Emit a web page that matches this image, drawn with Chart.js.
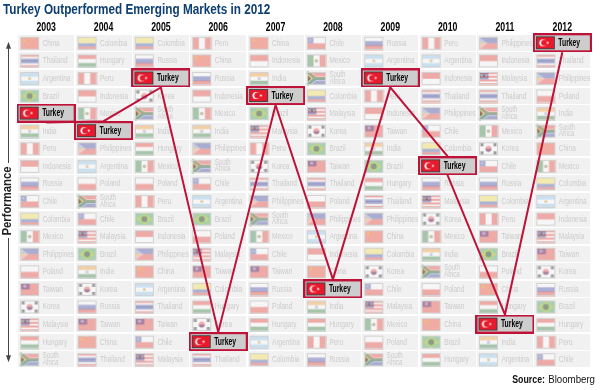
<!DOCTYPE html>
<html><head><meta charset="utf-8">
<style>html,body{margin:0;padding:0;background:#fff}canvas{display:block}</style>
<script src="https://cdn.jsdelivr.net/npm/chart.js@4"></script></head>
<body><div style="width:600px;height:390px"><canvas id="c" width="600" height="390"></canvas></div>
<script>
const chartTitle = "Turkey Outperformed Emerging Markets in 2012";
const axisTitle = "Performance";
const years = ["2003","2004","2005","2006","2007","2008","2009","2010","2011","2012"];
const rank2003 = ["China","Thailand","Argentina","Brazil","Turkey","India","Peru","Indonesia","Russia","Chile","Colombia","Mexico","Philippines","Poland","Taiwan","Korea","Malaysia","Hungary","South Africa"];
const rank2004 = ["Colombia","Hungary","Peru","Indonesia","Mexico","Turkey","Philippines","Argentina","Poland","South Africa","Chile","Malaysia","Brazil","India","Korea","Russia","Taiwan","China","Thailand"];
const rank2005 = ["Colombia","Russia","Turkey","Korea","South Africa","India","Hungary","Mexico","Poland","Peru","Brazil","Indonesia","Philippines","China","Argentina","Thailand","Taiwan","Chile","Malaysia"];
const rank2006 = ["Peru","China","Russia","Indonesia","Mexico","India","Philippines","South Africa","Chile","Argentina","Brazil","Poland","Malaysia","Taiwan","Colombia","Hungary","Korea","Turkey","Thailand"];
const rank2007 = ["China","Indonesia","India","Turkey","Brazil","Malaysia","Peru","Korea","Thailand","Philippines","South Africa","Mexico","Chile","Taiwan","Russia","Poland","Hungary","Argentina","Colombia"];
const rank2008 = ["Chile","Mexico","South Africa","Colombia","Malaysia","Korea","Brazil","Taiwan","Thailand","Poland","Philippines","Argentina","Indonesia","China","Turkey","India","Hungary","Peru","Russia"];
const rank2009 = ["Russia","Argentina","Turkey","Peru","Indonesia","Taiwan","India","Brazil","Hungary","Thailand","Philippines","China","Colombia","Korea","Chile","Malaysia","Mexico","Poland","South Africa"];
const rank2010 = ["Peru","Argentina","Indonesia","Thailand","Philippines","Chile","Colombia","Turkey","Russia","Malaysia","Korea","Mexico","India","South Africa","Poland","Taiwan","China","Brazil","Hungary"];
const rank2011 = ["Philippines","Indonesia","Malaysia","Thailand","South Africa","Mexico","Korea","Chile","Russia","Colombia","Peru","Taiwan","Brazil","Poland","China","Hungary","Turkey","India","Argentina"];
const rank2012 = ["Turkey","Thailand","Philippines","Poland","India","South Africa","China","Mexico","Colombia","Argentina","Indonesia","Malaysia","Taiwan","Korea","Russia","Brazil","Hungary","Peru","Chile"];
const turkeyRanks = [5,6,3,18,4,15,3,8,17,1];
const sourceBold = "Source:";
const sourceText = "Bloomberg";
const allRanks = [rank2003,rank2004,rank2005,rank2006,rank2007,rank2008,rank2009,rank2010,rank2011,rank2012];

const RED="#bf1238", FW=19, FH=13;
const SANS='"Liberation Sans",sans-serif';

/* No condensed face is installed: squeeze each font size horizontally to the reference's narrow type */
function squeeze(font){
  if(font.includes("14.5px")) return .81;
  if(font.includes("12.5px")) return .7;
  if(font.includes("13px")) return .87;
  if(font.includes("11px")) return font.includes("bold")?.8:.88;
  if(font.includes("10px")) return .68;
  return .72;
}
const canvasEl=document.getElementById("c");
const rawCtx=canvasEl.getContext("2d");
const rawFill=rawCtx.fillText.bind(rawCtx);
rawCtx.fillText=function(t,x,y){
  const k=squeeze(rawCtx.font);
  rawCtx.save();rawCtx.translate(x,y);rawCtx.scale(k,1);rawFill(t,0,0);rawCtx.restore();
};

function stripesH(c,cols,w,h){const s=h/cols.length;cols.forEach((k,i)=>{c.fillStyle=k;c.fillRect(0,i*s,w,s+.5);});}
function stripesV(c,cols,w,h){const s=w/cols.length;cols.forEach((k,i)=>{c.fillStyle=k;c.fillRect(i*s,0,s+.5,h);});}
function disc(c,x,y,r,k){c.fillStyle=k;c.beginPath();c.arc(x,y,r,0,7);c.fill();}
function drawFlag(c,n,w,h){
  const R="#e8382c",W="#ffffff",B="#3a3f9a",G="#2e7d3a",Y="#f6e04a";
  switch(n){
    case "China": c.fillStyle="#ee3b22";c.fillRect(0,0,w,h);disc(c,4,3.5,1.6,Y);[[7.5,1.5],[8.5,3],[8.5,5],[7.5,6.5]].forEach(p=>disc(c,p[0],p[1],.6,Y));break;
    case "Colombia": c.fillStyle=Y;c.fillRect(0,0,w,h/2);c.fillStyle="#3b4ea8";c.fillRect(0,h/2,w,h/4);c.fillStyle=R;c.fillRect(0,h*.75,w,h/4);break;
    case "Peru": stripesV(c,[R,W,R],w,h);break;
    case "Chile": c.fillStyle=W;c.fillRect(0,0,w,h/2);c.fillStyle=R;c.fillRect(0,h/2,w,h/2);c.fillStyle=B;c.fillRect(0,0,h/2,h/2);disc(c,h/4,h/4,1,W);break;
    case "Thailand": stripesH(c,[R,W,B,B,W,R],w,h);break;
    case "Hungary": stripesH(c,[R,W,G],w,h);break;
    case "Russia": stripesH(c,[W,"#3d45a5",R],w,h);break;
    case "Indonesia": stripesH(c,[R,W],w,h);break;
    case "Poland": stripesH(c,[W,R],w,h);break;
    case "Argentina": stripesH(c,["#8fc4ec",W,"#8fc4ec"],w,h);disc(c,w/2,h/2,1.5,"#c98a20");break;
    case "India": stripesH(c,["#f39a33",W,G],w,h);disc(c,w/2,h/2,1.6,"#7a7ab0");disc(c,w/2,h/2,.8,W);break;
    case "Mexico": stripesV(c,[G,W,R],w,h);disc(c,w/2,h/2,1.8,"#8a6a3a");break;
    case "Brazil": c.fillStyle="#2f9a45";c.fillRect(0,0,w,h);c.fillStyle=Y;c.beginPath();c.moveTo(1.5,h/2);c.lineTo(w/2,1);c.lineTo(w-1.5,h/2);c.lineTo(w/2,h-1);c.fill();disc(c,w/2,h/2,3,"#2c3f98");break;
    case "Turkey": c.fillStyle="#e8192c";c.fillRect(0,0,w,h);disc(c,w*.37,h/2,3.6,W);disc(c,w*.43,h/2,2.9,"#e8192c");disc(c,w*.62,h/2,1.1,W);break;
    case "Taiwan": c.fillStyle=R;c.fillRect(0,0,w,h);c.fillStyle=B;c.fillRect(0,0,w/2,h/2);disc(c,w/4,h/4,1.7,W);break;
    case "Philippines": c.fillStyle=B;c.fillRect(0,0,w,h/2);c.fillStyle=R;c.fillRect(0,h/2,w,h/2);c.fillStyle=W;c.beginPath();c.moveTo(0,0);c.lineTo(w*.45,h/2);c.lineTo(0,h);c.fill();disc(c,w*.14,h/2,1.5,Y);break;
    case "Malaysia": for(let i=0;i<7;i++){c.fillStyle=i%2?W:R;c.fillRect(0,i*h/7,w,h/7+.5);}c.fillStyle="#2a2f8e";c.fillRect(0,0,w/2,h*4/7);disc(c,w*.2,h*.28,1.7,Y);disc(c,w*.25,h*.28,1.4,"#2a2f8e");disc(c,w*.36,h*.28,.9,Y);break;
    case "Korea": c.fillStyle=W;c.fillRect(0,0,w,h);disc(c,w/2,h/2,3,R);c.fillStyle="#2a3a90";c.beginPath();c.arc(w/2,h/2,3,0,Math.PI);c.fill();c.fillStyle="#111";[[3,2.5],[w-3,2.5],[3,h-2.5],[w-3,h-2.5]].forEach(p=>{c.fillRect(p[0]-1.5,p[1]-1.5,3,3);});break;
    case "South Africa": c.fillStyle=R;c.fillRect(0,0,w,h/2);c.fillStyle=B;c.fillRect(0,h/2,w,h/2);c.strokeStyle=W;c.lineWidth=5;c.beginPath();c.moveTo(0,0);c.lineTo(w*.45,h/2);c.lineTo(w,h/2);c.moveTo(w*.45,h/2);c.lineTo(0,h);c.stroke();c.strokeStyle=G;c.lineWidth=3;c.stroke();c.fillStyle=Y;c.beginPath();c.moveTo(0,1);c.lineTo(w*.3,h/2);c.lineTo(0,h-1);c.fill();c.fillStyle="#111";c.beginPath();c.moveTo(0,2.5);c.lineTo(w*.22,h/2);c.lineTo(0,h-2.5);c.fill();break;
  }
}
function makeCell(name){
  const cv=document.createElement("canvas");cv.width=56;cv.height=16;const c=cv.getContext("2d");
  c.fillStyle="#f1f1f1";c.fillRect(0,0,56,16);
  c.translate(2,2);
  c.globalAlpha=.38;drawFlag(c,name,FW,FH);c.globalAlpha=1;
  c.strokeStyle="#d2d2d2";c.lineWidth=1;c.strokeRect(.5,.5,FW-1,FH-1);
  return cv;
}
function makeTurkeyBox(){
  const cv=document.createElement("canvas");cv.width=59;cv.height=19;const c=cv.getContext("2d");
  c.fillStyle=RED;c.fillRect(0,0,59,19);
  c.fillStyle="#cdcdcd";c.fillRect(2,2,55,15);
  c.save();c.translate(3,3);drawFlag(c,"Turkey",FW,FH);
  c.strokeStyle="#444";c.lineWidth=1;c.strokeRect(.5,.5,FW-1,FH-1);c.restore();
  return cv;
}
const cellCache={};
const cellStyle=n=>cellCache[n]||(cellCache[n]=makeCell(n));
const turkeyBox=makeTurkeyBox();

const cellPoints=[];
allRanks.forEach((list,i)=>list.forEach((n,r)=>{ if(n!=="Turkey") cellPoints.push({x:years[i],y:r+1,name:n}); }));
const turkeyPoints=turkeyRanks.map((r,i)=>({x:years[i],y:r}));
/* the link leaves and enters each box at its top or bottom edge */
const EDGE=.54;
const linkPoints=[];
turkeyRanks.forEach((r,i)=>{
  const prev=turkeyRanks[i-1], next=turkeyRanks[i+1];
  if(prev!==undefined) linkPoints.push({x:years[i],y:prev>r?r+EDGE:r-EDGE});
  if(next!==undefined) linkPoints.push({x:years[i],y:next>r?r+EDGE:r-EDGE});
});

const labelsPlugin={
  id:"cellLabels",
  afterDatasetDraw(chart,args){
    const c=chart.ctx;
    if(args.index===0){
      c.save();c.fillStyle="#cbcbcb";c.textBaseline="middle";c.textAlign="left";
      args.meta.data.forEach((el,i)=>{
        const n=cellPoints[i].name,x=el.x-28+24.5;
        if(n==="South Africa"){
          c.font='8.5px '+SANS;c.fillText("South",x,el.y-3.3);c.fillText("Africa",x,el.y+3.3);
        } else {c.font='9px '+SANS;c.fillText(n,x,el.y+.5);}
      });
      c.restore();
    }
    if(args.index===2){
      c.save();c.fillStyle="#000";c.textBaseline="middle";c.textAlign="left";c.font='bold 10px '+SANS;
      args.meta.data.forEach(el=>c.fillText("Turkey",el.x-29.5+25.5,el.y+.5));
      c.restore();
    }
  },
  afterDraw(chart){
    const c=chart.ctx;c.save();
    c.strokeStyle="#444";c.fillStyle="#444";c.lineWidth=1;
    const ax=8.5,t=chart.scales.y.getPixelForValue(1)-1,b=chart.scales.y.getPixelForValue(19)+3;
    c.beginPath();c.moveTo(ax,t+6);c.lineTo(ax,163);c.moveTo(ax,238);c.lineTo(ax,b-6);c.stroke();
    c.beginPath();c.moveTo(ax,t);c.lineTo(ax-2.5,t+7);c.lineTo(ax+2.5,t+7);c.fill();
    c.beginPath();c.moveTo(ax,b);c.lineTo(ax-2.5,b-7);c.lineTo(ax+2.5,b-7);c.fill();
    c.textBaseline="alphabetic";c.textAlign="right";c.fillStyle="#111";
    c.font='11px '+SANS;c.fillText(sourceText,595,383);
    c.font='bold 11px '+SANS;c.fillText(sourceBold,545,383);
    c.restore();
  }
};

new Chart(canvasEl,{
  type:"scatter",
  data:{datasets:[
    {data:cellPoints,order:3,clip:false,pointStyle:ctx=>cellStyle(cellPoints[ctx.dataIndex].name),pointRadius:8},
    {data:linkPoints,order:2,clip:false,showLine:true,borderColor:RED,borderWidth:2,pointRadius:0,borderJoinStyle:"miter"},
    {data:turkeyPoints,order:1,clip:false,pointStyle:turkeyBox,pointRadius:8}
  ]},
  options:{
    responsive:false,animation:false,
    layout:{padding:{left:3,right:5.5,top:0,bottom:22}},
    plugins:{
      legend:{display:false},tooltip:{enabled:false},
      title:{display:true,text:chartTitle,align:"start",color:"#0d3f72",
        font:{family:SANS,size:14.5,weight:"bold"},padding:{top:1,bottom:0}}
    },
    scales:{
      x:{type:"category",labels:years,position:"top",offset:true,
        grid:{display:false,drawTicks:false},border:{display:false},
        ticks:{color:"#000",font:{family:SANS,size:12.5,weight:"bold"},padding:-1,maxRotation:0,autoSkip:false},
        afterFit:s=>{s.height=15.6;}},
      y:{type:"linear",min:.5,max:19.5,reverse:true,
        grid:{display:false},border:{display:false},ticks:{display:false},
        title:{display:true,text:axisTitle,color:"#222",font:{family:SANS,size:13,weight:"bold"},padding:{top:-3,bottom:0}},
        afterFit:s=>{s.width=14.5;}}
    }
  },
  plugins:[labelsPlugin]
});
</script></body></html>
